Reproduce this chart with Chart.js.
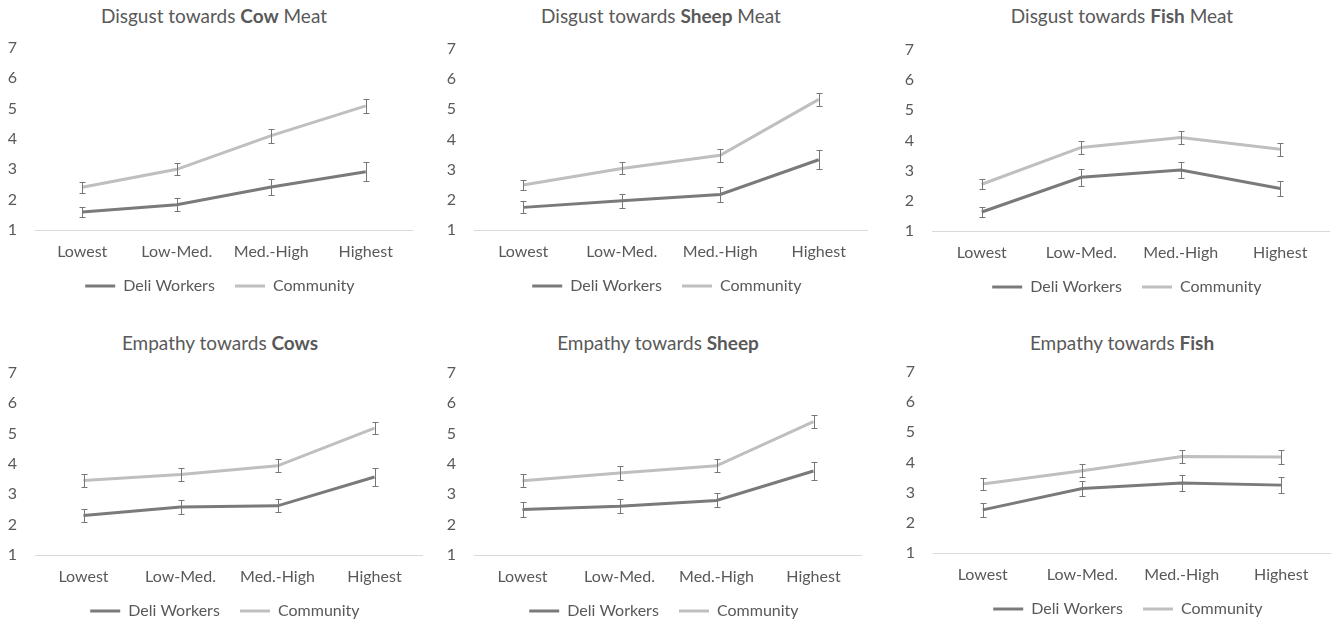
<!DOCTYPE html>
<html>
<head>
<meta charset="utf-8">
<script src="https://cdn.jsdelivr.net/npm/chart.js@4.4.1/dist/chart.umd.min.js"></script>
<style>
  body { margin: 0; background: #fff; width: 1331px; height: 621px; overflow: hidden; position: relative; font-family: Lato, sans-serif; }
  .t { position: absolute; text-align: center; font-size: 19px; color: #595959; line-height: 22px; white-space: nowrap; }
  .t b { font-weight: 700; }
  .c { position: absolute; }
</style>
</head>
<body>
<script>
  const categories = ['Lowest', 'Low-Med.', 'Med.-High', 'Highest'];
  const seriesNames = ['Deli Workers', 'Community'];

  const cowDisgustDeli = [1.59, 1.83, 2.42, 2.92];
  const cowDisgustDeliErr = [0.17, 0.22, 0.27, 0.31];
  const cowDisgustComm = [2.41, 3.0, 4.11, 5.09];
  const cowDisgustCommErr = [0.18, 0.2, 0.23, 0.22];

  const sheepDisgustDeli = [1.75, 1.97, 2.18, 3.33];
  const sheepDisgustDeliErr = [0.2, 0.23, 0.25, 0.31];
  const sheepDisgustComm = [2.49, 3.04, 3.48, 5.33];
  const sheepDisgustCommErr = [0.18, 0.2, 0.21, 0.21];

  const fishDisgustDeli = [1.63, 2.78, 3.02, 2.41];
  const fishDisgustDeliErr = [0.17, 0.28, 0.27, 0.25];
  const fishDisgustComm = [2.55, 3.77, 4.1, 3.71];
  const fishDisgustCommErr = [0.17, 0.21, 0.21, 0.21];

  const cowEmpathyDeli = [2.3, 2.58, 2.62, 3.57];
  const cowEmpathyDeliErr = [0.21, 0.22, 0.21, 0.29];
  const cowEmpathyComm = [3.46, 3.65, 3.94, 5.18];
  const cowEmpathyCommErr = [0.21, 0.21, 0.21, 0.2];

  const sheepEmpathyDeli = [2.5, 2.61, 2.8, 3.77];
  const sheepEmpathyDeliErr = [0.24, 0.23, 0.23, 0.3];
  const sheepEmpathyComm = [3.45, 3.7, 3.94, 5.4];
  const sheepEmpathyCommErr = [0.21, 0.22, 0.21, 0.2];

  const fishEmpathyDeli = [2.43, 3.14, 3.32, 3.25];
  const fishEmpathyDeliErr = [0.24, 0.25, 0.27, 0.26];
  const fishEmpathyComm = [3.29, 3.73, 4.2, 4.18];
  const fishEmpathyCommErr = [0.21, 0.22, 0.22, 0.22];

  const yMin = 1, yMax = 7;
  const TEXT = '#595959', DELI = '#7a7a7a', COMM = '#bfbfbf', ERR = '#777777';

  // layout of each small chart: canvas box, y axis width, top padding, title centre
  const panels = [
    { title: ['Disgust towards ', 'Cow', ' Meat'], deli: cowDisgustDeli, deliErr: cowDisgustDeliErr, comm: cowDisgustComm, commErr: cowDisgustCommErr,
      left: 0, top: 0, width: 413, height: 304, yW: 35, padTop: 48, tx: 214, ty: 5 },
    { title: ['Disgust towards ', 'Sheep', ' Meat'], deli: sheepDisgustDeli, deliErr: sheepDisgustDeliErr, comm: sheepDisgustComm, commErr: sheepDisgustCommErr,
      left: 445, top: 0, width: 423, height: 304, yW: 29, padTop: 49, tx: 661, ty: 5 },
    { title: ['Disgust towards ', 'Fish', ' Meat'], deli: fishDisgustDeli, deliErr: fishDisgustDeliErr, comm: fishDisgustComm, commErr: fishDisgustCommErr,
      left: 890, top: 0, width: 440, height: 305, yW: 42, padTop: 50, tx: 1122, ty: 5 },
    { title: ['Empathy towards ', 'Cows', ''], deli: cowEmpathyDeli, deliErr: cowEmpathyDeliErr, comm: cowEmpathyComm, commErr: cowEmpathyCommErr,
      left: 0, top: 320, width: 423, height: 309, yW: 35, padTop: 53, tx: 220, ty: 332 },
    { title: ['Empathy towards ', 'Sheep', ''], deli: sheepEmpathyDeli, deliErr: sheepEmpathyDeliErr, comm: sheepEmpathyComm, commErr: sheepEmpathyCommErr,
      left: 445, top: 320, width: 417, height: 309, yW: 29, padTop: 53, tx: 658, ty: 332 },
    { title: ['Empathy towards ', 'Fish', ''], deli: fishEmpathyDeli, deliErr: fishEmpathyDeliErr, comm: fishEmpathyComm, commErr: fishEmpathyCommErr,
      left: 890, top: 320, width: 441, height: 307, yW: 43, padTop: 52, tx: 1122, ty: 332 },
  ];

  const errorBars = {
    id: 'errorBars',
    afterDatasetsDraw(chart) {
      const ctx = chart.ctx, ys = chart.scales.y;
      ctx.save();
      ctx.strokeStyle = ERR; ctx.lineWidth = 1;
      chart.data.datasets.forEach((ds, i) => {
        chart.getDatasetMeta(i).data.forEach((pt, j) => {
          const x = Math.round(pt.x) + 0.5;
          const hi = Math.round(ys.getPixelForValue(ds.data[j] + ds.err[j])) + 0.5;
          const lo = Math.round(ys.getPixelForValue(ds.data[j] - ds.err[j])) + 0.5;
          ctx.beginPath();
          ctx.moveTo(x, hi); ctx.lineTo(x, lo);
          ctx.moveTo(x - 3, hi); ctx.lineTo(x + 3, hi);
          ctx.moveTo(x - 3, lo); ctx.lineTo(x + 3, lo);
          ctx.stroke();
        });
      });
      ctx.restore();
    }
  };

  Chart.defaults.font.family = 'Lato, sans-serif';
  Chart.defaults.color = TEXT;
  Chart.defaults.animation = false;
  const baseLabels = Chart.defaults.plugins.legend.labels.generateLabels;

  panels.forEach(p => {
    const t = document.createElement('div');
    t.className = 't';
    t.style.left = (p.tx - 200) + 'px'; t.style.width = '400px'; t.style.top = p.ty + 'px';
    t.innerHTML = `${p.title[0]}<b>${p.title[1]}</b>${p.title[2]}`;
    document.body.appendChild(t);

    const wrap = document.createElement('div');
    wrap.className = 'c';
    Object.assign(wrap.style, { left: p.left + 'px', top: p.top + 'px', width: p.width + 'px', height: p.height + 'px' });
    const cv = document.createElement('canvas');
    wrap.appendChild(cv);
    document.body.appendChild(wrap);

    new Chart(cv, {
      type: 'line',
      data: {
        labels: categories,
        datasets: [
          { label: seriesNames[0], data: p.deli, err: p.deliErr, borderColor: DELI, backgroundColor: DELI, borderWidth: 3, pointRadius: 0, tension: 0 },
          { label: seriesNames[1], data: p.comm, err: p.commErr, borderColor: COMM, backgroundColor: COMM, borderWidth: 3, pointRadius: 0, tension: 0 },
        ]
      },
      options: {
        responsive: true, maintainAspectRatio: false,
        layout: { padding: { top: p.padTop, left: 0, right: 0, bottom: 0 } },
        plugins: {
          tooltip: { enabled: false },
          legend: {
            position: 'bottom', fullSize: false,
            labels: {
              usePointStyle: true, pointStyle: 'line', pointStyleWidth: 30, padding: 12, color: TEXT, font: { size: 16 },
              // a little trailing room so the two items sit apart like the original
              generateLabels: c => baseLabels(c).map(l => ({ ...l, text: l.text + '  ' }))
            }
          }
        },
        scales: {
          x: {
            offset: true,
            grid: { display: false, drawTicks: false },
            border: { display: true, color: '#d9d9d9', width: 1 },
            ticks: { padding: 12, color: TEXT, font: { size: 16 } },
            afterFit: s => { s.height = 36; }
          },
          y: {
            min: yMin, max: yMax,
            grid: { display: false, drawTicks: false },
            border: { display: false },
            ticks: { stepSize: 1, padding: 18, color: TEXT, font: { size: 16 } },
            afterFit: s => { s.width = p.yW; }
          }
        }
      },
      plugins: [errorBars]
    });
  });
</script>
</body>
</html>
